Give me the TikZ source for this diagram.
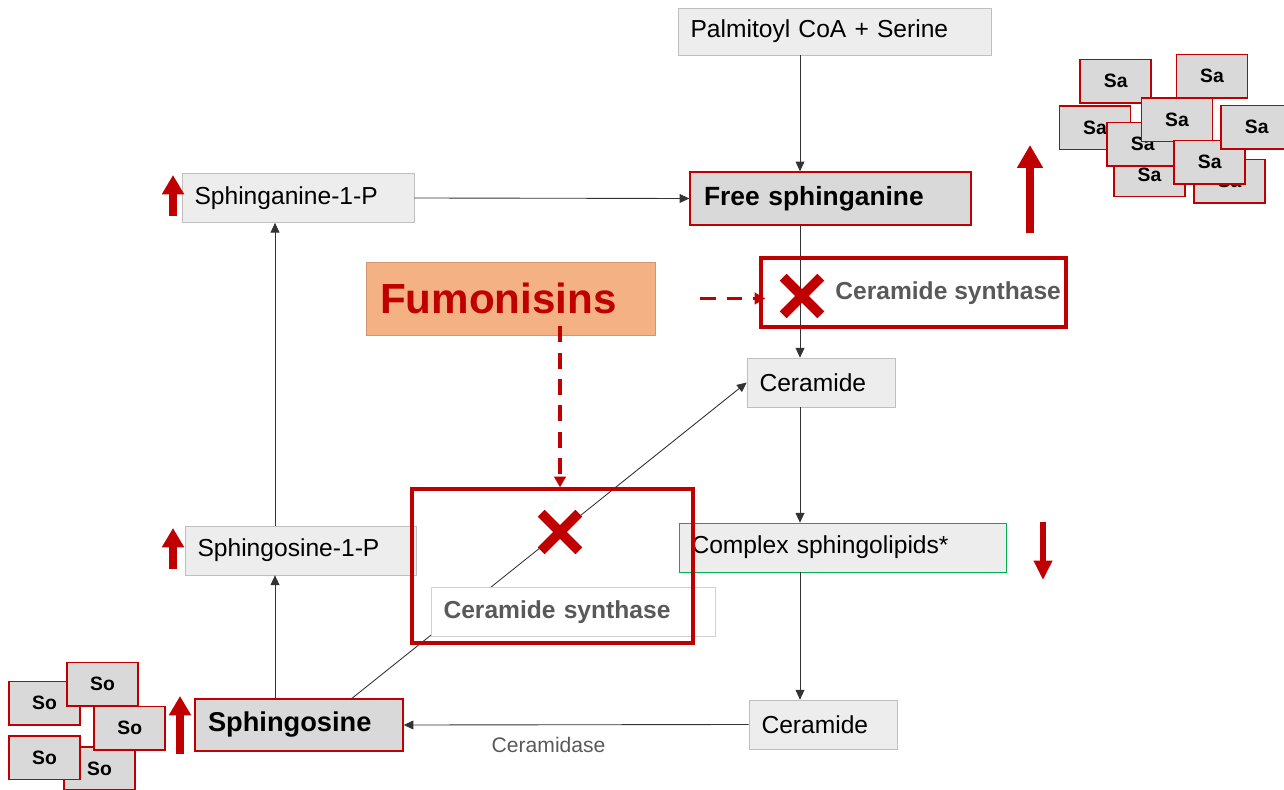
\documentclass[tikz,border=0pt]{standalone}
\usepackage{fontspec}
\setmainfont{Liberation Sans}
\usetikzlibrary{positioning,arrows.meta,shapes.misc}

\definecolor{fumored}{HTML}{C00000}
\definecolor{boxfill}{HTML}{EDEDED}
\definecolor{boxline}{HTML}{BFBFBF}
\definecolor{darkfill}{HTML}{D9D9D9}
\definecolor{fumofill}{HTML}{F4B183}
\definecolor{cplxgreen}{HTML}{00B050}
\definecolor{labelgray}{HTML}{595959}

\begin{document}
\begin{tikzpicture}[x=0.02cm,y=-0.02cm,
  >={Triangle[length=5.5pt,width=5pt]},
  line/.style={draw=black!80,line width=0.5pt,->},
  gbox/.style={draw=boxline,fill=boxfill,align=left,inner xsep=0.25cm,inner ysep=0pt,
    minimum height=0.98cm,font=\fontsize{14pt}{16pt}\selectfont},
  redbox/.style={gbox,draw=fumored,fill=darkfill,line width=0.8pt,
    font=\fontsize{15.5pt}{18pt}\selectfont\bfseries},
  inhib/.style={draw=fumored,line width=2pt,inner sep=0pt},
  xmark/.style={cross out,draw=fumored,line width=5.5pt,minimum size=0.56cm,inner sep=0pt},
  fumoarrow/.style={draw=fumored,line width=1.8pt,dash pattern=on 9pt off 6pt,
    -{Triangle[length=6pt,width=6.5pt]}},
  levelarrow/.style={draw=fumored,line width=4pt,-{Triangle[length=11pt,width=12pt]}},
  sabox/.style={draw=fumored,fill=darkfill,line width=1pt,minimum width=1.42cm,
    minimum height=0.87cm,font=\fontsize{11pt}{13pt}\selectfont\bfseries},
]
\useasboundingbox (0,0) rectangle (1284,790);

% accumulated sphinganine / sphingosine
\foreach \x/\y [count=\i] in {1149.5/174.7, 1229.5/181.3, 1095/127.7, 1115.7/81.3, 1212/76.3,
    1142.8/144.2, 1177/119.7, 1209.8/162.3, 1256.7/127.2}
  \node[sabox] (sa\i) at (\x,\y) {Sa};
\foreach \x/\y [count=\i] in {99.5/768.5, 44.5/703.3, 102.5/684.2, 129.8/728.3, 44.5/757.8}
  \node[sabox] (so\i) at (\x,\y) {So};

% pathway
\node[gbox,text width=5.76cm,minimum height=0.94cm] (palm) at (834.5,31.5) {Palmitoyl CoA + Serine};
\node[gbox,text width=4.14cm] (sa1p) at (298,198) {Sphinganine-1-P};
\node[redbox,text width=5.06cm,inner xsep=0.28cm,minimum height=1.06cm,
  font=\fontsize{15pt}{18pt}\selectfont\bfseries] (freesa) at (830.5,198.5) {Free sphinganine};
\node[gbox,draw=fumofill!85!black,fill=fumofill,text width=5.22cm,inner xsep=0.28cm,
  minimum height=1.46cm,text=fumored,font=\fontsize{24pt}{28pt}\selectfont\bfseries]
  (fumo) at (510.5,298.5) {Fumonisins};
\node[gbox,text width=2.46cm] (cer1) at (821,382.5) {Ceramide};
\node[gbox,draw=cplxgreen,text width=6.04cm] (cplx) at (842.5,547.5) {Complex sphingolipids*};
\node[gbox,text width=4.12cm] (so1p) at (300.5,550.5) {Sphingosine-1-P};
\node[redbox,text width=3.64cm,inner xsep=0.26cm,minimum height=1.04cm] (sph) at (299,725) {Sphingosine};
\node[gbox,text width=2.46cm] (cer2) at (823,724.5) {Ceramide};

\coordinate (spine) at (800,0);
\coordinate (lspine) at (275,0);

\draw[line] (palm.south -| spine) -- (freesa.north -| spine);
\draw[line] (freesa.south -| spine) -- (cer1.north -| spine);
\draw[line] (cer1.south -| spine) -- (cplx.north -| spine);
\draw[line] (cplx.south -| spine) -- (cer2.north -| spine);
\draw[line] (sa1p.east) -- (freesa.west);
\draw[line] (sph.north -| lspine) -- (so1p.south -| lspine);
\draw[line] (so1p.north -| lspine) -- (sa1p.south -| lspine);
\draw[line] ([xshift=1.06cm]sph.north) -- (cer1.west);
\draw[line] (cer2.west) -- node[pos=0.58,below=0.12cm,text=labelgray,
  font=\fontsize{12pt}{14pt}\selectfont] (cdase) {Ceramidase} (sph.east);

% blocked ceramide synthase
\node[inhib,minimum width=6.1cm,minimum height=1.38cm] (inhib1) at (913.5,292.5) {};
\node[anchor=west,inner sep=0pt,text=labelgray,font=\fontsize{14pt}{16pt}\selectfont\bfseries]
  (csyn1) at (835,293) {Ceramide synthase};
\node[gbox,draw=boxline!70,fill=white,text width=5.18cm,text=labelgray,
  font=\fontsize{14pt}{16pt}\selectfont\bfseries] (csyn2) at (573,612) {Ceramide synthase};
\node[inhib,minimum width=5.62cm,minimum height=3.08cm] (inhib2) at (552.5,566) {};
\node[xmark] (x1) at (802,296) {};
\node[xmark] (x2) at (560,532) {};

\draw[fumoarrow] ([xshift=0.9cm]fumo.east) -- ([xshift=0.12cm]inhib1.west |- fumo.east);
\draw[fumoarrow] ([yshift=0.18cm]fumo.south -| x2) -- (inhib2.north -| x2);

% level changes
\draw[levelarrow] (173,216) -- (173,175);
\draw[levelarrow] (173,569) -- (173,528);
\draw[levelarrow] (180,754) -- (180,696);
\draw[levelarrow,line width=4.5pt,-{Triangle[length=13pt,width=14pt]}] (1030,233) -- (1030,145);
\draw[levelarrow,line width=3.5pt,-{Triangle[length=11pt,width=10pt]}] (1043,522) -- (1043,580);

\end{tikzpicture}
\end{document}
